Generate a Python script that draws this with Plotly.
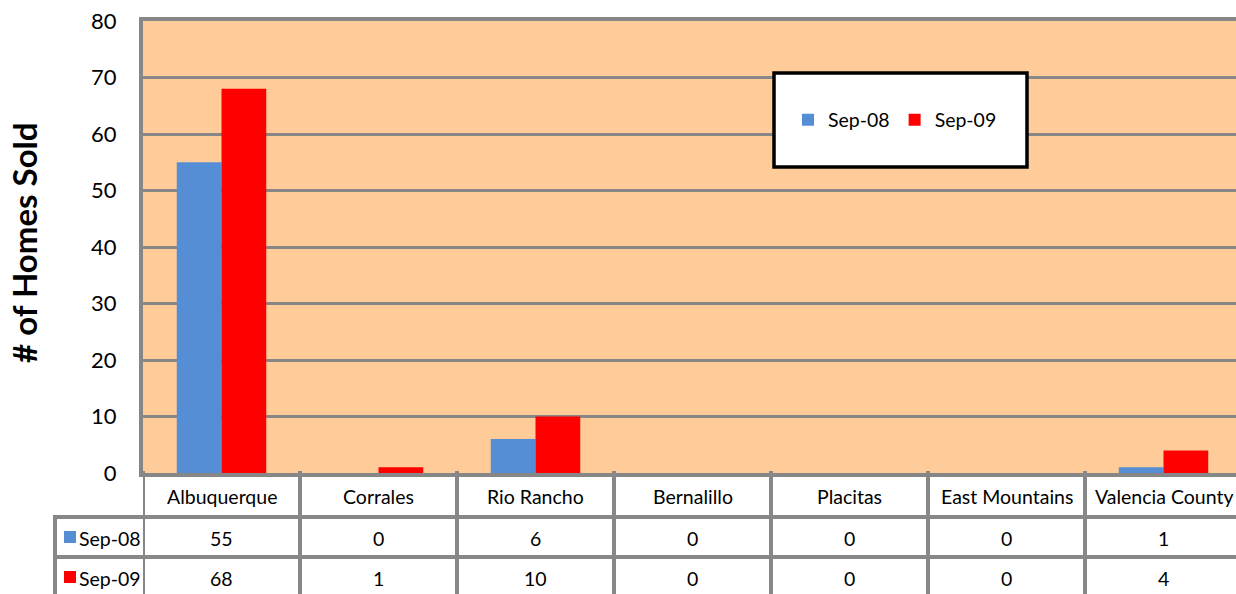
import plotly.graph_objects as go

categories = ["Albuquerque", "Corrales", "Rio Rancho", "Bernalillo", "Placitas", "East Mountains", "Valencia County"]
series_names = ["Sep-08", "Sep-09"]
sep08 = [55, 0, 6, 0, 0, 0, 1]
sep09 = [68, 1, 10, 0, 0, 0, 4]
y_ticks = [0, 10, 20, 30, 40, 50, 60, 70, 80]
colors = ["#558ED5", "#FF0000"]

W, H = 1236, 594
PL, PT, PB = 143, 21, 473
PW, PH = W - PL, PB - PT
CAT_PX = 157
FONT = "Lato, Carlito, 'Liberation Sans', sans-serif"
GRID = "#878787"
TXT = 19.5


def px(x):
    return (x - PL) / PW


def py(y):
    return (PB - y) / PH


fig = go.Figure()
for name, vals, col in zip(series_names, [sep08, sep09], colors):
    fig.add_trace(go.Bar(x=categories, y=vals, name=name, marker=dict(color=col, line=dict(width=0))))

shapes = []
annotations = []

# table row geometry (pixels)
row_bounds = [473, 517, 557, 600]
row_centers = [496, 538, 578]

# horizontal table lines
for yb in row_bounds[1:3]:
    shapes.append(dict(type="line", xref="paper", yref="paper", x0=px(54), x1=1.0, y0=py(yb), y1=py(yb),
                       line=dict(color=GRID, width=4)))
# left border of legend column
shapes.append(dict(type="line", xref="paper", yref="paper", x0=px(55), x1=px(55), y0=py(515), y1=py(600),
                   line=dict(color=GRID, width=4)))
# vertical category boundaries
for i in range(len(categories) + 1):
    shapes.append(dict(type="line", xref="x", yref="paper", x0=i - 0.5, x1=i - 0.5, y0=py(471), y1=py(600),
                       line=dict(color=GRID, width=4)))

# category labels
for i, c in enumerate(categories):
    annotations.append(dict(xref="x", yref="paper", x=i, y=py(row_centers[0]), text=c, showarrow=False,
                            font=dict(family=FONT, size=TXT, color="#000"), xanchor="center", yanchor="middle"))
# value rows
for r, (name, vals, col) in enumerate(zip(series_names, [sep08, sep09], colors)):
    yc = row_centers[r + 1]
    for i, v in enumerate(vals):
        annotations.append(dict(xref="x", yref="paper", x=i, y=py(yc), text=str(v), showarrow=False,
                                font=dict(family=FONT, size=TXT, color="#000"), xanchor="center", yanchor="middle"))
    shapes.append(dict(type="rect", xref="paper", yref="paper", x0=px(64), x1=px(76), y0=py(yc - 7), y1=py(yc + 5),
                       fillcolor=col, line=dict(width=0)))
    annotations.append(dict(xref="paper", yref="paper", x=px(77), y=py(yc), text=name, showarrow=False,
                            font=dict(family=FONT, size=TXT, color="#000"), xanchor="left", yanchor="middle"))

# legend box
shapes.append(dict(type="rect", xref="paper", yref="paper", x0=px(774), x1=px(1027), y0=py(167), y1=py(73),
                   fillcolor="white", line=dict(color="black", width=3.5), layer="above"))

# y-axis title
annotations.append(dict(xref="paper", yref="paper", x=px(24), y=py(243), text="<b># of Homes Sold</b>",
                        textangle=-90, showarrow=False, font=dict(family=FONT, size=33, color="#000"),
                        xanchor="center", yanchor="middle"))

fig.update_layout(
    width=W, height=H,
    margin=dict(l=PL, r=0, t=PT, b=H - PB, pad=0),
    paper_bgcolor="white",
    plot_bgcolor="#FFCC99",
    barmode="group",
    bargap=0.43,
    bargroupgap=0,
    showlegend=True,
    legend=dict(orientation="h", x=px(788), y=py(120), xanchor="left", yanchor="middle",
                bgcolor="rgba(0,0,0,0)", borderwidth=0, font=dict(family=FONT, size=TXT, color="#000"),
                itemclick=False, traceorder="normal"),
    xaxis=dict(type="category", range=[-0.5, -0.5 + PW / CAT_PX], showticklabels=False, showgrid=False,
               showline=True, linecolor=GRID, linewidth=4, mirror=True, zeroline=False, ticks=""),
    yaxis=dict(range=[0, 80], tickvals=y_ticks, showgrid=True, gridcolor=GRID, gridwidth=3,
               showline=True, linecolor=GRID, linewidth=4, zeroline=False, ticks="",
               tickfont=dict(family=FONT, size=22, color="#000"), ticklabelstandoff=18),
    shapes=shapes,
    annotations=annotations,
)

fig.write_html("out.html")
